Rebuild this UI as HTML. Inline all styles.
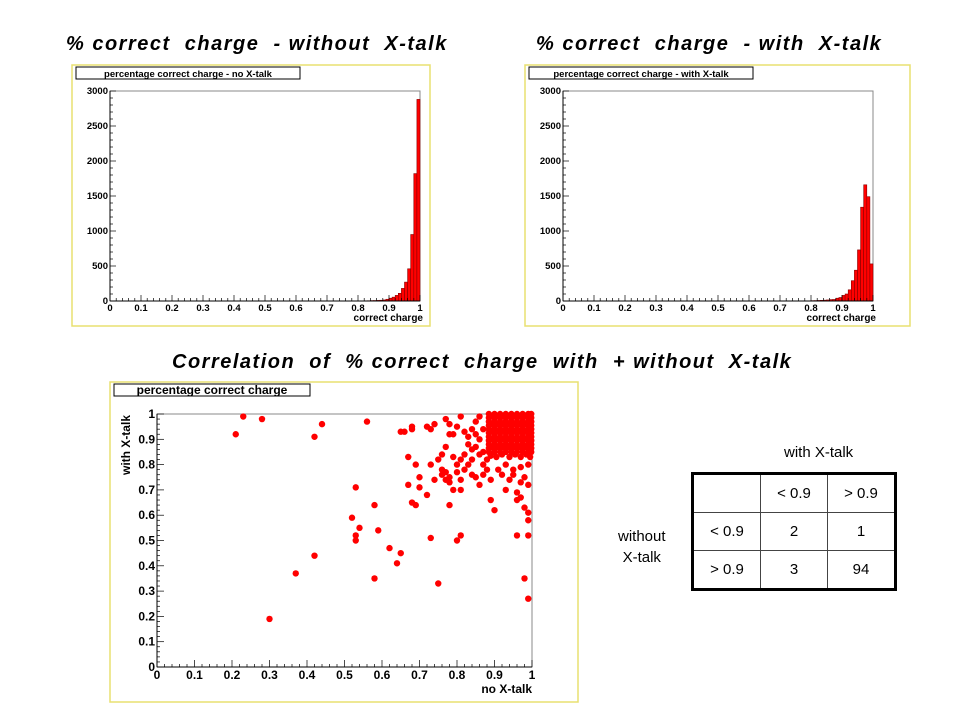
<!DOCTYPE html>
<html><head><meta charset="utf-8">
<style>
body{margin:0;width:960px;height:720px;background:#fff;position:relative;overflow:hidden;font-family:"Liberation Sans",Arial,sans-serif}
.t{position:absolute;font-weight:bold;font-style:italic;font-size:20px;letter-spacing:1.5px;color:#000;white-space:nowrap}
.n{position:absolute;font-size:15px;color:#000;white-space:nowrap}
svg{position:absolute;left:0;top:0}
table{position:absolute;left:691px;top:472px;border-collapse:collapse;border:3px solid #000}
td{border:1px solid #444;width:66px;height:37px;text-align:center;font-size:15px;padding:0}
</style></head><body>
<div class="t" style="left:66px;top:33px">% correct &nbsp;charge &nbsp;- without &nbsp;X-talk</div>
<div class="t" style="left:536px;top:33px">% correct &nbsp;charge &nbsp;- with &nbsp;X-talk</div>
<div class="t" style="left:172px;top:351px">Correlation &nbsp;of &nbsp;% correct &nbsp;charge &nbsp;with &nbsp;+ without &nbsp;X-talk</div>
<div class="n" style="left:784px;top:444px">with X-talk</div>
<div class="n" style="left:618px;top:526px;text-align:center;line-height:21px">without<br>X-talk</div>
<table>
<tr><td></td><td>&lt; 0.9</td><td>&gt; 0.9</td></tr>
<tr><td>&lt; 0.9</td><td>2</td><td>1</td></tr>
<tr><td>&gt; 0.9</td><td>3</td><td>94</td></tr>
</table>
<svg id="s" width="960" height="720"></svg>
<script>
const histBinsStart = [0.80,0.81,0.82,0.83,0.84,0.85,0.86,0.87,0.88,0.89,0.90,0.91,0.92,0.93,0.94,0.95,0.96,0.97,0.98,0.99];
const histNoXtalk = [2,2,3,4,6,7,9,11,15,25,40,55,80,110,180,270,460,950,1820,2880];
const histWithXtalk = [5,6,8,10,12,15,20,22,40,50,80,100,160,290,440,730,1340,1660,1490,530];
const histYTicks = [0,500,1000,1500,2000,2500,3000];
const xTicks = [0,0.1,0.2,0.3,0.4,0.5,0.6,0.7,0.8,0.9,1];
const scatY = [0,0.1,0.2,0.3,0.4,0.5,0.6,0.7,0.8,0.9,1];
const scatterX = [0.21,0.23,0.28,0.42,0.44,0.56,0.65,0.66,0.68,0.68,0.72,0.73,0.74,0.67,0.69,0.73,0.70,0.67,0.70,0.72,0.74,0.68,0.69,0.53,0.58,0.52,0.54,0.53,0.53,0.59,0.62,0.65,0.64,0.58,0.42,0.37,0.30,0.73,0.75,0.80,0.81,0.78,0.79,0.81,0.89,0.90,0.96,0.99,0.98,0.99,0.99,0.99,0.98,0.97,0.96,0.96,0.93,0.94,0.89,0.86,0.84,0.85,0.76,0.77,0.78,0.76,0.77,0.78,0.80,0.81,0.82,0.80,0.81,0.79,0.77,0.75,0.76,0.78,0.79,0.80,0.81,0.77,0.78,0.82,0.83,0.84,0.85,0.86,0.83,0.84,0.82,0.83,0.84,0.86,0.87,0.88,0.87,0.91,0.92,0.93,0.95,0.95,0.97,0.98,0.99,0.97,0.99,0.99,0.85,0.87,0.86,0.88,0.85,0.87,
0.885,0.90,0.915,0.93,0.945,0.96,0.975,0.99,0.998, 0.885,0.90,0.915,0.93,0.945,0.96,0.975,0.99,0.998, 0.885,0.90,0.915,0.93,0.945,0.96,0.975,0.99,0.998, 0.885,0.90,0.915,0.93,0.945,0.96,0.975,0.99,0.998, 0.885,0.90,0.915,0.93,0.945,0.96,0.975,0.99,0.998, 0.885,0.90,0.915,0.93,0.945,0.96,0.975,0.99,0.998, 0.885,0.90,0.915,0.93,0.945,0.96,0.975,0.99,0.998, 0.885,0.90,0.915,0.93,0.945,0.96,0.975,0.99,0.998, 0.885,0.90,0.915,0.93,0.945,0.96,0.975,0.99,0.998, 0.885,0.90,0.915,0.93,0.945,0.96,0.975,0.99,0.998, 0.885,0.90,0.915,0.93,0.945,0.96,0.975,0.99,0.998, 0.89,0.905,0.92,0.94,0.955,0.97,0.985,0.995,
0.8925,0.9075,0.9225,0.9375,0.9525,0.9675,0.9825,0.9925, 0.8925,0.9075,0.9225,0.9375,0.9525,0.9675,0.9825,0.9925, 0.8925,0.9075,0.9225,0.9375,0.9525,0.9675,0.9825,0.9925, 0.8925,0.9075,0.9225,0.9375,0.9525,0.9675,0.9825,0.9925, 0.8925,0.9075,0.9225,0.9375,0.9525,0.9675,0.9825,0.9925];
const scatterY = [0.92,0.99,0.98,0.91,0.96,0.97,0.93,0.93,0.95,0.94,0.95,0.94,0.96,0.83,0.80,0.80,0.75,0.72,0.71,0.68,0.74,0.65,0.64,0.71,0.64,0.59,0.55,0.52,0.50,0.54,0.47,0.45,0.41,0.35,0.44,0.37,0.19,0.51,0.33,0.50,0.52,0.64,0.70,0.70,0.66,0.62,0.52,0.52,0.35,0.27,0.58,0.61,0.63,0.67,0.69,0.66,0.70,0.74,0.74,0.72,0.76,0.75,0.76,0.74,0.73,0.78,0.77,0.75,0.77,0.74,0.78,0.80,0.82,0.83,0.87,0.82,0.84,0.92,0.92,0.95,0.99,0.98,0.96,0.93,0.91,0.94,0.97,0.99,0.88,0.86,0.84,0.80,0.82,0.84,0.80,0.78,0.76,0.78,0.76,0.80,0.78,0.76,0.73,0.75,0.72,0.79,0.80,0.84,0.87,0.85,0.90,0.82,0.92,0.94,
1.0,1.0,1.0,1.0,1.0,1.0,1.0,1.0,1.0, 0.985,0.985,0.985,0.985,0.985,0.985,0.985,0.985,0.985, 0.97,0.97,0.97,0.97,0.97,0.97,0.97,0.97,0.97, 0.955,0.955,0.955,0.955,0.955,0.955,0.955,0.955,0.955, 0.94,0.94,0.94,0.94,0.94,0.94,0.94,0.94,0.94, 0.925,0.925,0.925,0.925,0.925,0.925,0.925,0.925,0.925, 0.91,0.91,0.91,0.91,0.91,0.91,0.91,0.91,0.91, 0.895,0.895,0.895,0.895,0.895,0.895,0.895,0.895,0.895, 0.88,0.88,0.88,0.88,0.88,0.88,0.88,0.88,0.88, 0.865,0.865,0.865,0.865,0.865,0.865,0.865,0.865,0.865, 0.85,0.85,0.85,0.85,0.85,0.85,0.85,0.85,0.85, 0.835,0.83,0.84,0.83,0.84,0.83,0.84,0.83,
0.99,0.99,0.99,0.99,0.99,0.99,0.99,0.99, 0.96,0.96,0.96,0.96,0.96,0.96,0.96,0.96, 0.93,0.93,0.93,0.93,0.93,0.93,0.93,0.93, 0.90,0.90,0.90,0.90,0.90,0.90,0.90,0.90, 0.87,0.87,0.87,0.87,0.87,0.87,0.87,0.87];

const NS='http://www.w3.org/2000/svg', svg=document.getElementById('s');
function mk(t,a,p){const e=document.createElementNS(NS,t);for(const k in a)e.setAttribute(k,a[k]);(p||svg).appendChild(e);return e;}
function txt(x,y,s,o){const e=mk('text',Object.assign({x:x,y:y,'font-family':'Liberation Sans, Arial, sans-serif','font-weight':'bold','font-size':9,fill:'#000'},o||{}));e.textContent=s;return e;}

function panel(px,py,pw,ph,label,lw,name,fs){
  const g=mk('g',{});
  
  
  mk('rect',{x:px,y:py,width:pw,height:ph,fill:'#fff',stroke:'#e8e070','stroke-width':1.5},g);
  mk('rect',{x:px+4,y:py+2,width:lw,height:12,fill:'#fff',stroke:'#000','stroke-width':1},g);
  const t=txt(px+4+lw/2,py+12,label,{'text-anchor':'middle','font-size':fs});
  g.appendChild(t);
  return g;
}

function hist(px,py,pw,label,name,vals,xtitle){
  const g=panel(px,py,pw,261,label,224,name,9.5);
  const x0=px+38,x1=px+348,y0=py+236,y1=py+26;
  const X=v=>x0+(x1-x0)*v, Y=v=>y0-(y0-y1)*v/3000;
  mk('rect',{x:x0,y:y1,width:x1-x0,height:y0-y1,fill:'none',stroke:'#888','stroke-width':1},g);
  for(let i=0;i<vals.length;i++){
    const b=mk('rect',{x:X(histBinsStart[i]),y:Y(vals[i]),width:X(histBinsStart[i]+0.01)-X(histBinsStart[i]),height:y0-Y(vals[i]),fill:'#ff0000',stroke:'#800','stroke-width':0.6},g);
    
    
  }
  for(let k=0;k<=50;k++){const xx=x0+(x1-x0)*k/50;mk('line',{x1:xx,x2:xx,y1:y0,y2:y0-(k%5?3:6),stroke:'#000','stroke-width':0.7},g);}
  for(let k=0;k<=30;k++){const yy=y0-(y0-y1)*k/30;mk('line',{x1:x0,x2:x0+(k%5?3:6),y1:yy,y2:yy,stroke:'#000','stroke-width':0.7},g);}
  mk('line',{x1:x0,x2:x0,y1:y0,y2:y1,stroke:'#000','stroke-width':1},g);
  mk('line',{x1:x0,x2:x1,y1:y0,y2:y0,stroke:'#000','stroke-width':1},g);
  xTicks.forEach(v=>{g.appendChild(txt(X(v),y0+10,String(v),{'text-anchor':'middle','font-size':9.5}));});
  histYTicks.forEach(v=>{g.appendChild(txt(x0-2,Y(v)+3,String(v),{'text-anchor':'end','font-size':9.5}));});
  g.appendChild(txt(x1+3,y0+20,xtitle,{'text-anchor':'end','font-size':10}));
}
hist(72,65,358,'percentage correct charge - no X-talk','hist-no-xtalk',histNoXtalk,'correct charge');
hist(525,65,385,'percentage correct charge - with X-talk','hist-with-xtalk',histWithXtalk,'correct charge');

(function(){
  const g=panel(110,382,468,320,'percentage correct charge',196,'scatter-plot',12);
  const x0=157,x1=532,y0=667,y1=414;
  const X=v=>x0+(x1-x0)*v, Y=v=>y0-(y0-y1)*v;
  mk('rect',{x:x0,y:y1,width:x1-x0,height:y0-y1,fill:'none',stroke:'#888','stroke-width':1},g);
  for(let k=0;k<=50;k++){const xx=x0+(x1-x0)*k/50;mk('line',{x1:xx,x2:xx,y1:y0,y2:y0-(k%5?3:7),stroke:'#000','stroke-width':0.7},g);}
  for(let k=0;k<=50;k++){const yy=y0-(y0-y1)*k/50;mk('line',{x1:x0,x2:x0+(k%5?3:7),y1:yy,y2:yy,stroke:'#000','stroke-width':0.7},g);}
  mk('line',{x1:x0,x2:x0,y1:y0,y2:y1,stroke:'#000','stroke-width':1},g);
  mk('line',{x1:x0,x2:x1,y1:y0,y2:y0,stroke:'#000','stroke-width':1},g);
  for(let i=0;i<scatterX.length;i++){
    const c=mk('circle',{cx:X(scatterX[i]),cy:Y(scatterY[i]),r:3.2,fill:'#ff0000'},g);
    
    
  }
  xTicks.forEach(v=>{g.appendChild(txt(X(v),y0+12,String(v),{'text-anchor':'middle','font-size':12}));});
  scatY.forEach(v=>{g.appendChild(txt(x0-2,Y(v)+4,String(v),{'text-anchor':'end','font-size':12}));});
  g.appendChild(txt(x1,y0+26,'no X-talk',{'text-anchor':'end','font-size':12}));
  g.appendChild(txt(130,y1+1,'with X-talk',{'text-anchor':'end','font-size':12,transform:'rotate(-90 130 '+(y1+1)+')'}));
})();
</script>
</body></html>
